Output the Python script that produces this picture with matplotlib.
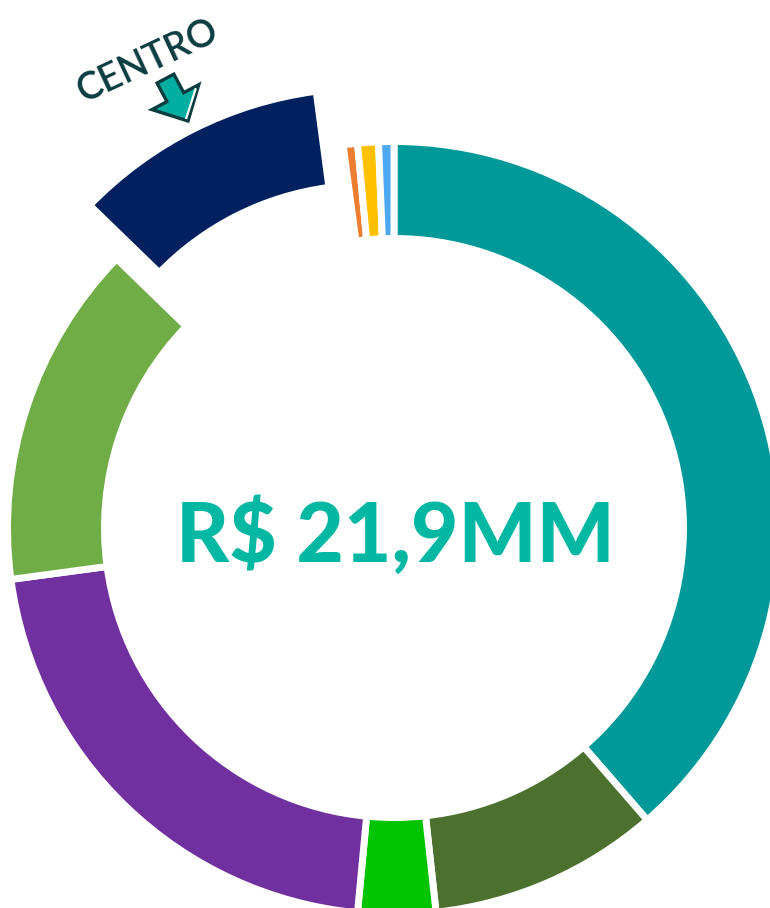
import numpy as np
import matplotlib
matplotlib.use("Agg")
import matplotlib.pyplot as plt
from matplotlib.patches import Polygon

# ---- data (R$ MM), clockwise from 12 o'clock ----
categories = ["A", "B", "C", "D", "E", "Centro", "F", "G", "H"]
values = [8.46, 2.11, 0.71, 4.68, 3.15, 2.33, 0.13, 0.19, 0.14]
colors = ["#009999", "#4C712E", "#00C400", "#7030A0", "#70AD47",
          "#002060", "#ED7D31", "#FFC000", "#4DA8F2"]
highlight = "Centro"
total_label = "R$ 21,9MM"
callout_label = "CENTRO"

W, H = 770, 908
fig = plt.figure(figsize=(W / 100, H / 100), dpi=100)
ax = fig.add_axes([0, 0, 1, 1])

cx, cy = 394, H - 528
R, ring = 386.5, 97
explode = [60 if c == highlight else 0 for c in categories]

ax.pie(values, colors=colors, startangle=90, counterclock=False,
       center=(cx, cy), radius=R, explode=explode,
       wedgeprops=dict(width=ring, edgecolor="white", linewidth=5))

ax.set_xlim(0, W)
ax.set_ylim(0, H)
ax.set_aspect("equal")
ax.axis("off")

ax.text(395, H - 562, total_label, fontsize=59, fontweight="black",
        family=["Lato", "DejaVu Sans"], color="#03B8A3",
        ha="center", va="baseline")

ax.text(148, H - 61, callout_label, fontsize=27, fontweight="semibold",
        family=["Lato", "DejaVu Sans"], color="#0B3D40",
        ha="center", va="center", rotation=25)

# arrow (local coords, tip at origin pointing down), rotated
loc = np.array([[-9.5, 48], [9.5, 48], [9.5, 27], [26.5, 27], [0, 0],
                [-26.5, 27], [-9.5, 27]])
th = np.deg2rad(28)
rot = np.array([[np.cos(th), -np.sin(th)], [np.sin(th), np.cos(th)]])
tip = np.array([188, H - 121])
pts = loc @ rot.T + tip
ax.add_patch(Polygon(pts, closed=True, facecolor="#00AFA0",
                     edgecolor="#0B3D40", linewidth=2.4, joinstyle="miter"))
inset = np.array([[21.5, 24.5], [0, 3.5]])
pts2 = inset @ rot.T + tip
ax.plot(pts2[:, 0], pts2[:, 1], color="white", linewidth=1.6)

fig.savefig("out.png", dpi=100)
